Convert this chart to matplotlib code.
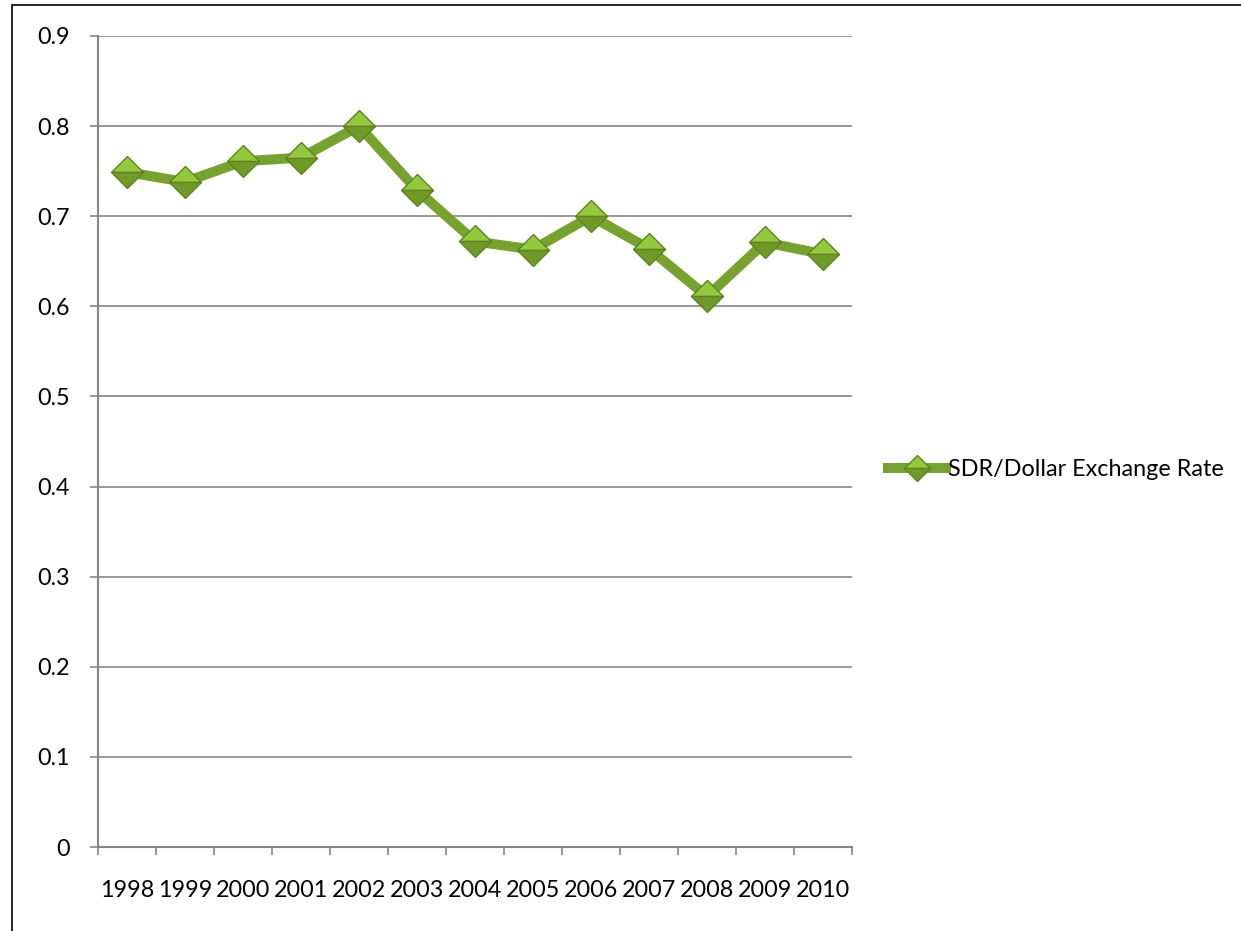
import matplotlib.pyplot as plt
from matplotlib.patches import Rectangle

years = ['1998', '1999', '2000', '2001', '2002', '2003', '2004',
         '2005', '2006', '2007', '2008', '2009', '2010']
rate = [0.749, 0.738, 0.761, 0.765, 0.800, 0.729, 0.672,
        0.663, 0.700, 0.664, 0.611, 0.671, 0.658]
yticks = [0, 0.1, 0.2, 0.3, 0.4, 0.5, 0.6, 0.7, 0.8, 0.9]

plt.rcParams['font.family'] = ['Lato', 'DejaVu Sans']
fs = 16.8

fig = plt.figure(figsize=(12.41, 9.31), dpi=100)
ax = fig.add_axes([98/1241, 1-847/931, (852-98)/1241, (847-36)/931])

grey = '#868686'
x = [i + 0.5 for i in range(len(years))]
line, = ax.plot(x, rate, color='#77a22f', lw=7.2, solid_joinstyle='round',
                marker='D', ms=16, fillstyle='top',
                markerfacecolor='#95c93d', markerfacecoloralt='#6f9a27',
                markeredgecolor='#5e8421', markeredgewidth=1,
                label='SDR/Dollar Exchange Rate', zorder=3)

ax.set_xlim(0, len(years))
ax.set_ylim(0, 0.9)
ax.set_yticks(yticks)
ax.set_yticklabels(['0' if v == 0 else f'{v:g}' for v in yticks])
ax.set_xticks(range(len(years) + 1))
ax.set_xticklabels([])
ax.set_xticks(x, minor=True)
ax.set_xticklabels(years, minor=True)
ax.tick_params(axis='x', which='minor', length=0, pad=24, labelsize=fs)
ax.tick_params(axis='x', which='major', length=6, color=grey, width=1.2)
ax.tick_params(axis='y', length=6, color=grey, width=1.2, pad=14, labelsize=fs)

ax.grid(axis='y', color=grey, lw=1.2)
ax.set_axisbelow(True)
for s in ['top', 'right']:
    ax.spines[s].set_visible(False)
for s in ['left', 'bottom']:
    ax.spines[s].set_color(grey)
    ax.spines[s].set_linewidth(1.5)

fig.legend(handles=[line], loc='center left',
           bbox_to_anchor=(888/1241, 1-470/931), frameon=False,
           fontsize=fs, handlelength=2.5, handletextpad=0.05,
           borderpad=0, borderaxespad=0, markerscale=0.8)

fig.patches.append(Rectangle((12/1241, -0.1), 1.2, 1.1 - 5/931,
                             transform=fig.transFigure, fill=False,
                             edgecolor='black', lw=1.2))

fig.savefig('out.png', dpi=100)
